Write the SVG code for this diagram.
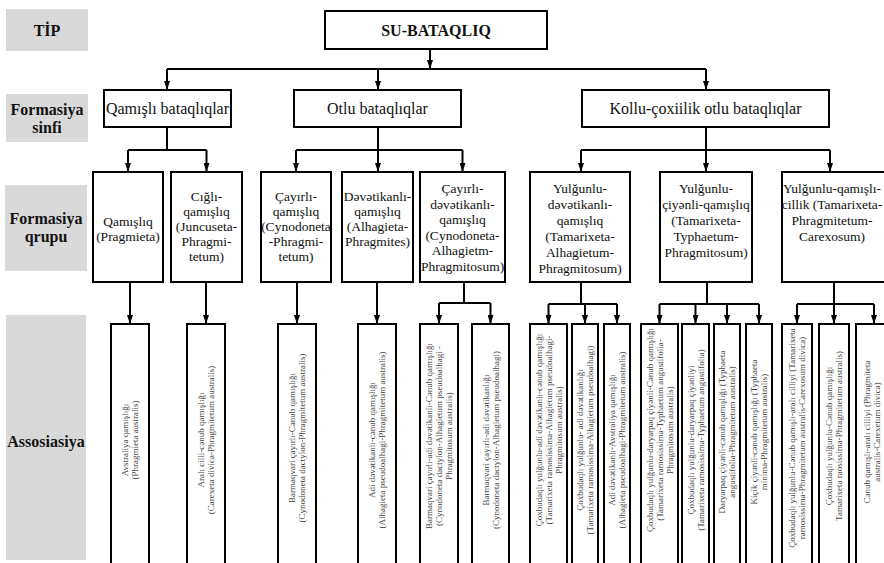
<svg xmlns="http://www.w3.org/2000/svg" width="884" height="563" viewBox="0 0 884 563">
  <style>
    .lbl { fill: #d9d9d9; }
    .lt { font-family: "Liberation Serif", "Times New Roman", serif; font-weight: bold; font-size: 16px; text-anchor: middle; fill: #111; }
    .box { fill: #fff; stroke: #000; stroke-width: 2; }
    .t16 { font-family: "Liberation Serif", "Times New Roman", serif; font-size: 16px; text-anchor: middle; fill: #111; }
    .t14 { font-family: "Liberation Serif", "Times New Roman", serif; font-size: 13.5px; text-anchor: middle; fill: #111; }
    .t9 { font-family: "Liberation Serif", "Times New Roman", serif; font-size: 9px; text-anchor: middle; fill: #444; }
    .ln { stroke: #000; stroke-width: 2; fill: none; }
    .ar { stroke: #000; stroke-width: 2; fill: none; marker-end: url(#arrow); }
  </style>
  <defs>
    <marker id="arrow" markerUnits="userSpaceOnUse" viewBox="0 0 9 6" refX="9" refY="3" markerWidth="9" markerHeight="6" orient="auto">
      <path d="M0,0 L9,3 L0,6 z" fill="#000"/>
    </marker>
  </defs>

  <rect width="884" height="563" fill="#fff"/>

  <!-- level labels -->
  <g id="level-labels">
    <rect class="lbl" x="6" y="9" width="82" height="42"/>
    <text class="lt" x="47" y="36">TİP</text>
    <rect class="lbl" x="6" y="94" width="82" height="48"/>
    <text class="lt" x="47" y="115">Formasiya</text>
    <text class="lt" x="47" y="133">sinfi</text>
    <rect class="lbl" x="5" y="185" width="82" height="86"/>
    <text class="lt" x="46" y="224">Formasiya</text>
    <text class="lt" x="46" y="242">qrupu</text>
    <rect class="lbl" x="6" y="315" width="80" height="245"/>
    <text class="lt" x="46" y="447">Assosiasiya</text>
  </g>

  <!-- connectors -->
  <g id="connectors">
    <path class="ar" d="M430,49 V69"/>
    <path class="ln" d="M167,69 H706"/>
    <path class="ar" d="M167,69 V90"/>
    <path class="ar" d="M378,69 V90"/>
    <path class="ar" d="M706,69 V90"/>

    <path class="ln" d="M167,127 V150 M128,150 H206.5"/>
    <path class="ar" d="M128,150 V172"/>
    <path class="ar" d="M206.5,150 V172"/>
    <path class="ln" d="M378,127 V150 M296,150 H462.5"/>
    <path class="ar" d="M296,150 V172"/>
    <path class="ar" d="M378,150 V172"/>
    <path class="ar" d="M462.5,150 V172"/>
    <path class="ln" d="M706,127 V150 M581,150 H830"/>
    <path class="ar" d="M581,150 V172"/>
    <path class="ar" d="M706,150 V172"/>
    <path class="ar" d="M830,150 V172"/>

    <path class="ar" d="M130,282 V324"/>
    <path class="ar" d="M206,282 V324"/>
    <path class="ar" d="M297,282 V324"/>
    <path class="ar" d="M377,282 V324"/>
    <path class="ln" d="M464,282 V303 M439,303 H490.5"/>
    <path class="ar" d="M439,303 V324"/>
    <path class="ar" d="M490.5,303 V324"/>
    <path class="ln" d="M581,282 V304 M548.5,304 H617"/>
    <path class="ar" d="M548.5,304 V324"/>
    <path class="ar" d="M585,304 V324"/>
    <path class="ar" d="M617,304 V324"/>
    <path class="ln" d="M707,282 V304 M659.5,304 H759"/>
    <path class="ar" d="M659.5,304 V324"/>
    <path class="ar" d="M695.5,304 V324"/>
    <path class="ar" d="M727,304 V324"/>
    <path class="ar" d="M759,304 V324"/>
    <path class="ln" d="M834,282 V304 M797,304 H874"/>
    <path class="ar" d="M797,304 V324"/>
    <path class="ar" d="M834,304 V324"/>
    <path class="ar" d="M874,304 V324"/>
  </g>

  <!-- type -->
  <g id="tip">
    <rect class="box" x="325" y="11" width="222" height="38"/>
    <text class="lt" x="436" y="36">SU-BATAQLIQ</text>
  </g>

  <!-- formation classes -->
  <g id="sinif-qamisli">
    <rect class="box" x="104" y="90" width="127" height="37"/>
    <text class="t16" x="167.5" y="114">Qamışlı bataqlıqlar</text>
  </g>
  <g id="sinif-otlu">
    <rect class="box" x="294" y="90" width="167" height="37"/>
    <text class="t16" x="377.5" y="114">Otlu bataqlıqlar</text>
  </g>
  <g id="sinif-kollu">
    <rect class="box" x="582" y="90" width="247" height="37"/>
    <text class="t16" x="705.5" y="114">Kollu-çoxiilik  otlu bataqlıqlar</text>
  </g>

  <!-- formation groups -->
  <g id="qrup-1">
    <rect class="box" x="93" y="172" width="70" height="110"/>
    <text class="t14"><tspan x="128" y="226">Qamışlıq</tspan><tspan x="128" y="241">(Pragmieta)</tspan></text>
  </g>
  <g id="qrup-2">
    <rect class="box" x="171" y="172" width="71" height="110"/>
    <text class="t14"><tspan x="206.5" y="201">Cığlı-</tspan><tspan x="206.5" y="216">qamışlıq</tspan><tspan x="206.5" y="231">(Juncuseta-</tspan><tspan x="206.5" y="246">Phragmi-</tspan><tspan x="206.5" y="261">tetum)</tspan></text>
  </g>
  <g id="qrup-3">
    <rect class="box" x="261" y="172" width="70" height="110"/>
    <text class="t14"><tspan x="296" y="201">Çayırlı-</tspan><tspan x="296" y="216">qamışlıq</tspan><tspan x="296" y="231">(Cynodoneta</tspan><tspan x="296" y="246">-Phragmi-</tspan><tspan x="296" y="261">tetum)</tspan></text>
  </g>
  <g id="qrup-4">
    <rect class="box" x="342" y="172" width="71" height="110"/>
    <text class="t14"><tspan x="377.5" y="201">Dəvətikanlı-</tspan><tspan x="377.5" y="216">qamışlıq</tspan><tspan x="377.5" y="231">(Alhagieta-</tspan><tspan x="377.5" y="246">Phragmites)</tspan></text>
  </g>
  <g id="qrup-5">
    <rect class="box" x="420" y="172" width="85" height="110"/>
    <text class="t14"><tspan x="462.5" y="193">Çayırlı-</tspan><tspan x="462.5" y="208.5">dəvətikanlı-</tspan><tspan x="462.5" y="224">qamışlıq</tspan><tspan x="462.5" y="239.5">(Cynodoneta-</tspan><tspan x="462.5" y="255">Alhagietm-</tspan><tspan x="462.5" y="270.5">Phragmitosum)</tspan></text>
  </g>
  <g id="qrup-6">
    <rect class="box" x="530" y="172" width="100" height="110"/>
    <text class="t14"><tspan x="580" y="193">Yulğunlu-</tspan><tspan x="580" y="209">dəvətikanlı-</tspan><tspan x="580" y="225">qamışlıq</tspan><tspan x="580" y="241">(Tamarixeta-</tspan><tspan x="580" y="257">Alhagietum-</tspan><tspan x="580" y="273">Phragmitosum)</tspan></text>
  </g>
  <g id="qrup-7">
    <rect class="box" x="660" y="172" width="92" height="110"/>
    <text class="t14"><tspan x="706" y="193">Yulğunlu-</tspan><tspan x="706" y="209">çiyənli-qamışlıq</tspan><tspan x="706" y="225">(Tamarixeta-</tspan><tspan x="706" y="241">Typhaetum-</tspan><tspan x="706" y="257">Phragmitosum)</tspan></text>
  </g>
  <g id="qrup-8">
    <rect class="box" x="782" y="172" width="110" height="110"/>
    <text class="t14"><tspan x="832" y="193">Yulğunlu-qamışlı-</tspan><tspan x="832" y="209">cillik (Tamarixeta-</tspan><tspan x="832" y="225">Phragmitetum-</tspan><tspan x="832" y="241">Carexosum)</tspan></text>
  </g>

  <!-- associations (vertical text, read bottom to top) -->
  <g id="assos-1">
    <rect class="box" x="111" y="324" width="38" height="250"/>
    <text class="t9" transform="translate(128,440) rotate(-90)"><tspan x="0" y="0">Avstraliya  qamışlığı</tspan><tspan x="0" y="10">(Phragmieta  australis)</tspan></text>
  </g>
  <g id="assos-2">
    <rect class="box" x="187" y="324" width="38" height="250"/>
    <text class="t9" transform="translate(204,440) rotate(-90)"><tspan x="0" y="0">Aralı cilli-cənub  qamışlığı</tspan><tspan x="0" y="10">(Carexeta divica-Phragmitetum  australis)</tspan></text>
  </g>
  <g id="assos-3">
    <rect class="box" x="278" y="324" width="38" height="250"/>
    <text class="t9" transform="translate(295,438) rotate(-90)"><tspan x="0" y="0">Barmaqvari çayırlı-Cənub  qamışlığı</tspan><tspan x="0" y="10">(Cynodoneta  dactylon-Phragmitetum  australis)</tspan></text>
  </g>
  <g id="assos-4">
    <rect class="box" x="358" y="324" width="38" height="250"/>
    <text class="t9" transform="translate(375,440) rotate(-90)"><tspan x="0" y="0">Adi dəvətikanlı-cənub  qamışlığı</tspan><tspan x="0" y="10">(Alhagieta  pseudoalhagi-Phragmitetum  australis)</tspan></text>
  </g>
  <g id="assos-5a">
    <rect class="box" x="420" y="324" width="38" height="250"/>
    <text class="t9" transform="translate(432,436) rotate(-90)"><tspan x="0" y="0">Barmaqvari çayırlı-adi dəvətikanlı-Cənub  qamışlığı</tspan><tspan x="0" y="10">(Cynodoneta dactylon-Alhagietum  pseudoalhagi  -</tspan><tspan x="0" y="20">Phragmitosum  australis)</tspan></text>
  </g>
  <g id="assos-5b">
    <rect class="box" x="472" y="324" width="37" height="250"/>
    <text class="t9" transform="translate(488.5,440) rotate(-90)"><tspan x="0" y="0">Barmaqvari çayırlı-adi  dəvətikanlığı</tspan><tspan x="0" y="10">(Cynodoneta dactylon-Alhagietum  pseudoalhagi)</tspan></text>
  </g>
  <g id="assos-6a">
    <rect class="box" x="530" y="324" width="37" height="250"/>
    <text class="t9" transform="translate(541.5,430) rotate(-90)"><tspan x="0" y="0">Çoxbudaqlı yulğunlu-adi dəvətikanlı-cənub  qamışlığı</tspan><tspan x="0" y="10">(Tamarixeta ramosissima-Alhagietum  pseudoalhagi-</tspan><tspan x="0" y="20">Phragmitosum  australis)</tspan></text>
  </g>
  <g id="assos-6b">
    <rect class="box" x="572" y="324" width="26" height="250"/>
    <text class="t9" transform="translate(583,440) rotate(-90)"><tspan x="0" y="0">Çoxbudaqlı yulğunlu-  adi dəvətikanlığı</tspan><tspan x="0" y="10">(Tamarixeta ramosissima-Alhagietum  pseudoalhagi)</tspan></text>
  </g>
  <g id="assos-6c">
    <rect class="box" x="604" y="324" width="26" height="250"/>
    <text class="t9" transform="translate(615,440) rotate(-90)"><tspan x="0" y="0">Adi dəvətikanlı-Avstraliya  qamışlığı</tspan><tspan x="0" y="10">(Alhagieta pseudoalhagi-Phragmitetum  australis)</tspan></text>
  </g>
  <g id="assos-7a">
    <rect class="box" x="641" y="324" width="37" height="250"/>
    <text class="t9" transform="translate(652.5,430) rotate(-90)"><tspan x="0" y="0">Çoxbudaqlı yulğunlu-daryarpaq  çiyənli-Cənub  qamışlığı</tspan><tspan x="0" y="10">(Tamarixeta ramosissima-Typhaetum  angustifolia-</tspan><tspan x="0" y="20">Phragmitosum  australis)</tspan></text>
  </g>
  <g id="assos-7b">
    <rect class="box" x="682" y="324" width="27" height="250"/>
    <text class="t9" transform="translate(693.5,440) rotate(-90)"><tspan x="0" y="0">Çoxbudaqlı yulğunlu-daryarpaq  çiyənliyi</tspan><tspan x="0" y="10">(Tamarixeta ramosissima-Typhaetum  angustifolia)</tspan></text>
  </g>
  <g id="assos-7c">
    <rect class="box" x="714" y="324" width="26" height="250"/>
    <text class="t9" transform="translate(725,432) rotate(-90)"><tspan x="0" y="0">Daryarpaq çiyənli-cənub  qamışlığı  (Typhaeta</tspan><tspan x="0" y="10">angustifolia-Phragmitetum  australis)</tspan></text>
  </g>
  <g id="assos-7d">
    <rect class="box" x="746" y="324" width="26" height="250"/>
    <text class="t9" transform="translate(757,432) rotate(-90)"><tspan x="0" y="0">Kiçik çiyənli-cənub  qamışlığı  (Typhaeta</tspan><tspan x="0" y="10">minima-Phragmitetum  australis)</tspan></text>
  </g>
  <g id="assos-8a">
    <rect class="box" x="782" y="324" width="30" height="250"/>
    <text class="t9" transform="translate(795,438) rotate(-90)"><tspan x="0" y="0">Çoxbudaqlı  yulğunlu-Cənub  qamışlı-aralı  cilliyi  (Tamarixeta</tspan><tspan x="0" y="10">ramosissima-Phragmitetum  australis-Carexosum  divica)</tspan></text>
  </g>
  <g id="assos-8b">
    <rect class="box" x="819" y="324" width="30" height="250"/>
    <text class="t9" transform="translate(832,436) rotate(-90)"><tspan x="0" y="0">Çoxbudaqlı  yulğunlu-Cənub  qamışlığı</tspan><tspan x="0" y="10">Tamarixeta raosissima-Phragmitetum  australis)</tspan></text>
  </g>
  <g id="assos-8c">
    <rect class="box" x="856" y="324" width="36" height="250"/>
    <text class="t9" transform="translate(870,432) rotate(-90)"><tspan x="0" y="0">Cənub  qamışlı-aralı  cilliyi  (Phragmiteta</tspan><tspan x="0" y="10">australis-Carexetum  divica)</tspan></text>
  </g>
</svg>
